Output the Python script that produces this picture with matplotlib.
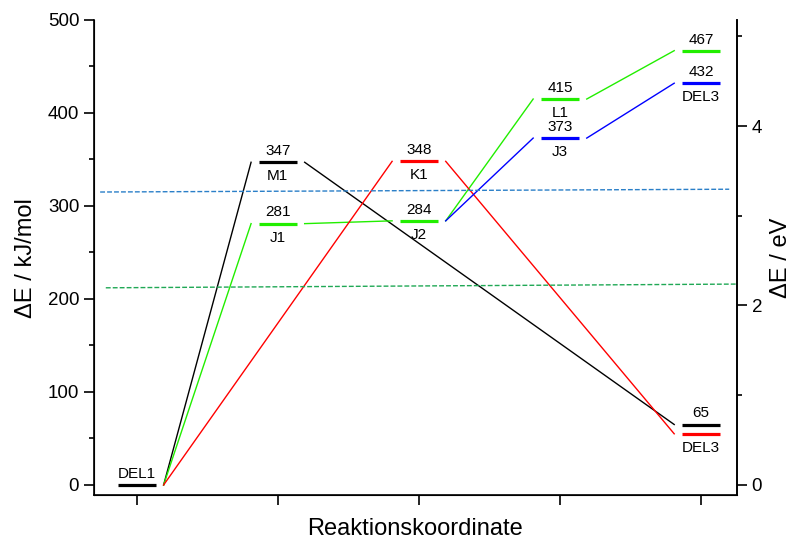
import matplotlib
matplotlib.use('Agg')
import matplotlib.pyplot as plt
from matplotlib.ticker import MultipleLocator

plt.rcParams['font.family'] = ['Liberation Sans', 'DejaVu Sans']

KJ_PER_EV = 96.485

# levels: (position, energy, colour, value label, name label)
positions = [1, 2, 2, 3, 3, 4, 4, 5, 5, 5, 5]
energies = [0, 347, 281, 348, 284, 415, 373, 467, 432, 65, 55]
colours = ['black', 'black', '#22ee00', 'red', '#22ee00', '#22ee00', 'blue',
           '#22ee00', 'blue', 'black', 'red']
value_labels = ['', '347', '281', '348', '284', '415', '373', '467', '432', '65', '']
name_labels = ['DEL1', 'M1', 'J1', 'K1', 'J2', 'L1', 'J3', '', 'DEL3', '', 'DEL3']

# pathways as indices into the level lists
paths = [
    ([0, 1, 9], 'black'),
    ([0, 2, 4, 5, 7], '#22ee00'),
    ([0, 3, 10], 'red'),
    ([4, 6, 8], 'blue'),
]

# reference energies (dashed), left and right end values
ref_blue = [315, 318]
ref_green = [212, 216]

half = 0.135
gap = 0.055

fig = plt.figure(figsize=(7.95, 5.40), dpi=100)
ax = fig.add_axes([0.118, 0.083, 0.809, 0.880])

for p, e, c in zip(positions, energies, colours):
    ax.plot([p - half, p + half], [e, e], color=c, lw=2.3, solid_capstyle='butt')

for idx, c in paths:
    for a, b in zip(idx[:-1], idx[1:]):
        x0 = positions[a] + half + gap
        x1 = positions[b] - half - gap
        ax.plot([x0, x1], [energies[a], energies[b]], color=c, lw=1.0)

for p, e, v, n in zip(positions, energies, value_labels, name_labels):
    if v:
        ax.annotate(v, (p, e), xytext=(0, 3), textcoords='offset points',
                    ha='center', va='bottom', fontsize=11)
    if n == 'DEL1':
        ax.annotate(n, (p, e), xytext=(0, 3), textcoords='offset points',
                    ha='center', va='bottom', fontsize=11)
    elif n:
        ax.annotate(n, (p, e), xytext=(0, -5), textcoords='offset points',
                    ha='center', va='top', fontsize=11)

ax.plot([0.74, 5.2], ref_blue, color='#2a7fc8', lw=1.0, ls=(0, (3.5, 1.5)))
ax.plot([0.78, 5.25], ref_green, color='#20a855', lw=1.0, ls=(0, (3.5, 1.5)))

ax.set_xlim(0.695, 5.255)
ax.set_ylim(-11, 500)
ax.set_xticks([1, 2, 3, 4, 5])
ax.set_xticklabels([])
ax.yaxis.set_major_locator(MultipleLocator(100))
ax.yaxis.set_minor_locator(MultipleLocator(50))
ax.tick_params(axis='both', which='major', direction='out', length=7, width=1.2,
               labelsize=13.5, colors='black')
ax.tick_params(axis='y', which='minor', direction='out', length=3.5, width=1.2)
ax.spines['top'].set_visible(False)
for s in ['left', 'bottom', 'right']:
    ax.spines[s].set_linewidth(1.2)
ax.set_ylabel('ΔE / kJ/mol', fontsize=17, labelpad=8)
ax.set_xlabel('Reaktionskoordinate', fontsize=17, labelpad=6)

ax2 = ax.twinx()
ax2.set_ylim(-11 / KJ_PER_EV, 500 / KJ_PER_EV)
ax2.yaxis.set_major_locator(MultipleLocator(2))
ax2.yaxis.set_minor_locator(MultipleLocator(1))
ax2.tick_params(axis='y', which='major', direction='out', length=7, width=1.2, labelsize=13.5)
ax2.tick_params(axis='y', which='minor', direction='out', length=3.5, width=1.2)
ax2.spines['top'].set_visible(False)
ax2.spines['right'].set_linewidth(1.2)
ax2.set_ylabel('ΔE / eV', fontsize=17, labelpad=6)

fig.savefig('out.png', dpi=100)
